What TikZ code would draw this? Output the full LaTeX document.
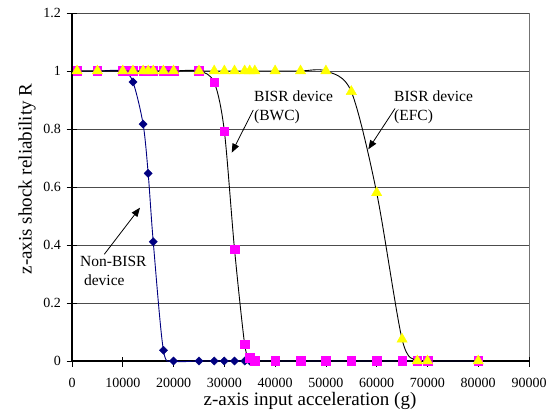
\documentclass[tikz,border=0pt]{standalone}
\usepackage{fontspec}
\setmainfont{Liberation Serif}
\usetikzlibrary{arrows.meta,plotmarks}

\definecolor{serNon}{RGB}{0,0,128}
\definecolor{serBwc}{RGB}{255,0,255}
\definecolor{serEfc}{RGB}{255,255,0}

\tikzset{
  gridln/.style={draw=black!70, line width=0.7pt},
  axisln/.style={draw=black, line width=1.4pt},
  ticklab/.style={font=\fontsize{14}{14}\selectfont, inner sep=0pt},
  annot/.style={font=\fontsize{15.5}{19}\selectfont, align=left, inner sep=0pt, anchor=west},
  callout/.style={-{Triangle[length=9pt,width=7pt]}, line width=0.8pt},
  curveln/.style={line width=0.9pt, smooth, tension=0.5},
}

\begin{document}
\begin{tikzpicture}[x=1pt,y=1pt]
\useasboundingbox (0,0) rectangle (548,411);

% plot area: x in units of 1000 g, y = reliability
\begin{scope}[shift={(72,50)}, x=5.078pt, y=290pt]
  % Grid lines
  \foreach \v in {0.2,0.4,...,1.2}
    \draw[gridln] (0,\v) -- (90,\v);
  \draw[draw=black!55, line width=0.8pt] (90,0) -- (90,1.2);

  % Axes and ticks
  \draw[axisln] (0,0) -- (0,1.2);
  \draw[axisln] (0,0) -- (90,0);
  \foreach \v in {0,0.2,...,1.2}
    \draw[line width=0.8pt] ([xshift=-5.5pt]0,\v) -- ([xshift=5pt]0,\v);
  \foreach \k in {0,10,...,90}
    \draw[line width=0.8pt] ([yshift=-6pt]\k,0) -- ([yshift=4pt]\k,0);

  % Tick labels
  \foreach \v/\t [count=\i] in {0/0,0.2/0.2,0.4/0.4,0.6/0.6,0.8/0.8,1/1,1.2/1.2}
    \node[ticklab, anchor=east] (ylab\i) at ([xshift=-11pt]0,\v) {\t};
  \foreach \k/\t [count=\i] in {0/0,10/10000,20/20000,30/30000,40/40000,50/50000,60/60000,70/70000,80/80000,90/90000}
    \node[ticklab] (xlab\i) at ([yshift=-22pt]\k,0) {\t};

  % Non-BISR device
  \draw[curveln, serNon] plot coordinates {(1,1) (5,1) (10,1) (12,0.962) (14,0.817) (15,0.647)
    (16,0.411) (18,0.037) (20,0) (25,0) (28,0) (30,0) (32,0) (34,0) (35,0) (36,0) (40,0) (45,0)
    (50,0) (55,0) (60,0) (65,0) (68,0) (70,0) (80,0)};
  \path plot[only marks, mark=square*, mark size=2.9pt,
    mark options={rotate=45, draw=serNon, fill=serNon}] coordinates {(1,1) (5,1) (10,1)
    (12,0.962) (14,0.817) (15,0.647) (16,0.411) (18,0.037) (20,0) (25,0) (28,0) (30,0) (32,0)
    (34,0) (35,0) (36,0)};

  % BISR device (BWC)
  \draw[curveln, black] plot coordinates {(1,1) (5,1) (10,1) (12,1) (14,1) (15,1) (16,1) (18,1)
    (20,1) (25,1) (28,0.961) (30,0.793) (32,0.386) (34,0.058) (35,0.011) (36,0) (40,0) (45,0)
    (50,0) (55,0) (60,0) (65,0) (68,0) (70,0) (80,0)};
  \path plot[only marks, mark=square*, mark size=4.3pt,
    mark options={draw=serBwc, fill=serBwc}] coordinates {(1,1) (5,1) (10,1) (12,1) (14,1)
    (15,1) (16,1) (18,1) (20,1) (25,1) (28,0.961) (30,0.793) (32,0.386) (34,0.058) (35,0.011)
    (36,0) (40,0) (45,0) (50,0) (55,0) (60,0) (65,0) (68,0) (70,0) (80,0)};

  % BISR device (EFC)
  \draw[curveln, black] plot coordinates {(1,1) (5,1) (10,1) (12,1) (14,1) (15,1) (16,1) (18,1)
    (20,1) (25,1) (28,1) (30,1) (32,1) (34,1) (35,1) (36,1) (40,1) (45,1) (50,1) (55,0.929)
    (60,0.58) (65,0.075) (68,0) (70,0) (80,0)};
  \path plot[only marks, mark=triangle*, mark size=6pt,
    mark options={draw=serEfc, fill=serEfc}] coordinates {(1,1) (5,1) (10,1) (12,1) (14,1)
    (15,1) (16,1) (18,1) (20,1) (25,1) (28,1) (30,1) (32,1) (34,1) (35,1) (36,1) (40,1) (45,1)
    (50,1) (55,0.929) (60,0.58) (65,0.075) (68,0) (70,0) (80,0)};
\end{scope}

% Axis titles
\node[font=\fontsize{19}{19}\selectfont, inner sep=0pt] (xtitle) at (310,10) {z-axis input acceleration (g)};
\node[font=\fontsize{19}{19}\selectfont, inner sep=0pt, rotate=90] (ytitle) at (27,232) {z-axis shock reliability R};

% Text Node
\node[annot] (lblBwc) at (254,303.5) {BISR device\\(BWC)};
% Text Node
\node[annot] (lblEfc) at (394,303.5) {BISR device\\(EFC)};
% Text Node
\node[annot] (lblNon) at (80,139.8) {Non-BISR\\\ device};

% Callout arrows
\coordinate (tipBwc) at (231.7,258.3);
\coordinate (tipEfc) at (368.3,261.7);
\coordinate (tipNon) at (140,203.3);
\draw[callout] ([xshift=-0.7pt,yshift=-2.5pt]lblBwc.west) -- (tipBwc);
\draw[callout] ([xshift=1pt,yshift=-1pt]lblEfc.west) -- (tipEfc);
\draw[callout] ([xshift=24.3pt,yshift=2pt]lblNon.north west) -- (tipNon);

\end{tikzpicture}
\end{document}
